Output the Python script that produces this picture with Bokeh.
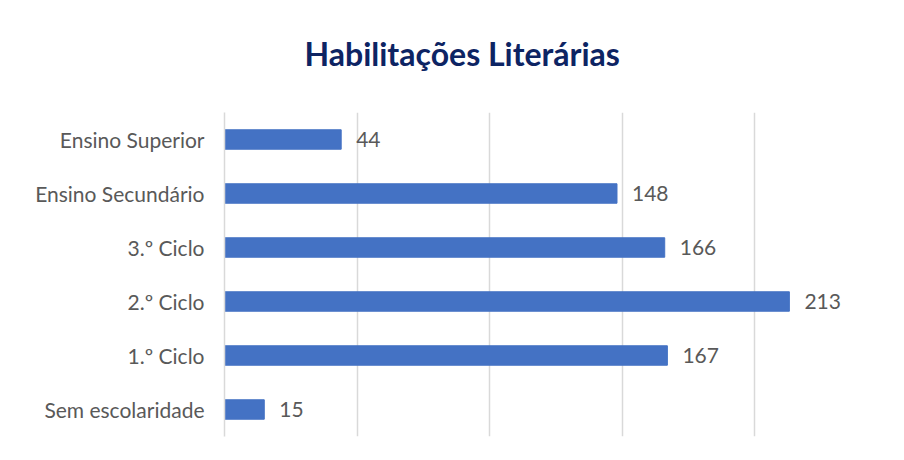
from bokeh.plotting import figure
from bokeh.models import FixedTicker, ColumnDataSource
from bokeh.core.properties import value
from bokeh.embed import file_html
from bokeh.resources import INLINE

categories = ["Sem escolaridade", "1.º Ciclo", "2.º Ciclo", "3.º Ciclo",
              "Ensino Secundário", "Ensino Superior"]
counts = [15, 167, 213, 166, 148, 44]
grid_ticks = [0, 50, 100, 150, 200, 250]
title_text = "Habilitações Literárias"

FONT = "Lato"

src = ColumnDataSource(dict(cat=categories, val=counts, lab=[str(v) for v in counts]))

p = figure(width=896, height=452, y_range=categories, x_range=(0, 250),
           output_backend="svg", toolbar_location=None,
           min_border_left=224, min_border_right=9, min_border_bottom=16,
           min_border_top=112)

p.hbar(y="cat", right="val", left=0, height=0.36, source=src,
       fill_color="#4472C4", line_color="#4472C4")

p.text(x="val", y="cat", text="lab", source=src, x_offset=15,
       text_baseline="middle", text_align="left",
       text_font=value(FONT), text_font_size="21px", text_color="#595959")

p.title.text = title_text + "\n "
p.title.text_font = FONT
p.title.text_font_size = "32px"
p.title.text_font_style = "bold"
p.title.text_color = "#0D2463"
p.title.text_line_height = 0.62
p.title.align = "left"
p.title.offset = 80
p.title.standoff = 30

p.xaxis.visible = False
p.xgrid.ticker = FixedTicker(ticks=grid_ticks)
p.xgrid.grid_line_color = "#D9D9D9"
p.xgrid.grid_line_width = 1.5
p.ygrid.grid_line_color = None

p.yaxis.axis_line_color = "#D9D9D9"
p.yaxis.axis_line_width = 1.5
p.yaxis.major_tick_line_color = None
p.yaxis.major_tick_out = 0
p.yaxis.minor_tick_line_color = None
p.yaxis.major_label_text_font = FONT
p.yaxis.major_label_text_font_size = "21px"
p.yaxis.major_label_text_color = "#595959"
p.yaxis.major_label_standoff = 20

p.outline_line_color = None
p.y_range.range_padding = 0

open("out.html", "w").write(file_html(p, INLINE))
